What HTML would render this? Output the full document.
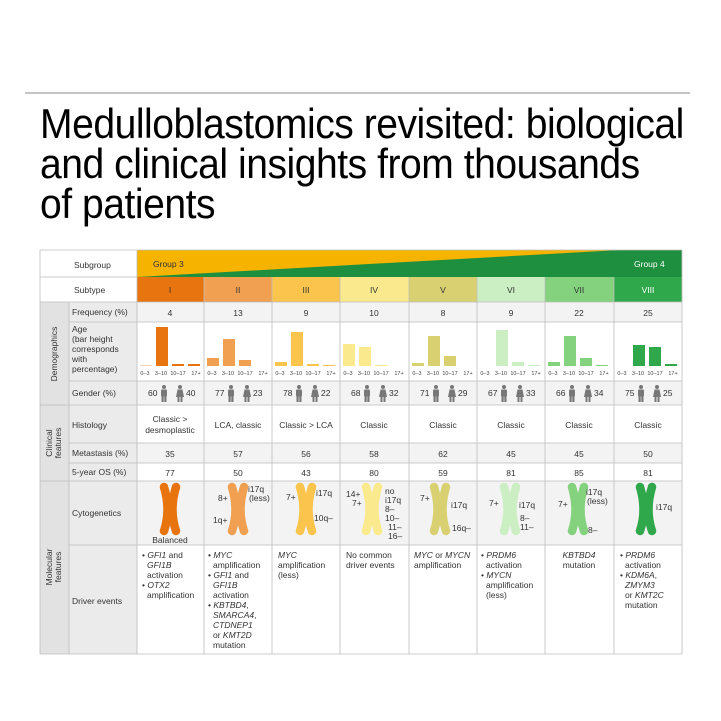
<!DOCTYPE html>
<html><head><meta charset="utf-8"><style>
html,body{margin:0;padding:0;background:#fff}
svg{display:block}
text{font-family:"Liberation Sans",sans-serif;fill:#333}
.t{font-size:8.5px}
.c{text-anchor:middle}
.a{font-size:5.5px;text-anchor:middle;fill:#444}
.i{font-style:italic}
.h{font-family:"Liberation Sans Narrow","Liberation Sans",sans-serif;font-size:42px;fill:#000;letter-spacing:-0.5px}
</style></head><body>
<svg width="721" height="721" viewBox="0 0 721 721" xmlns="http://www.w3.org/2000/svg">
<defs>
<g id="chr"><path d="M-6,-23 Q1,0 -6,21" fill="none" stroke-width="8.5" stroke-linecap="round"/><path d="M6,-23 Q-1,0 6,21" fill="none" stroke-width="8.5" stroke-linecap="round"/></g>
<g id="m" fill="#777"><circle cx="0" cy="-7" r="2"/><rect x="-3" y="-4.5" width="6" height="7" rx="1"/><rect x="-2.5" y="2" width="2.2" height="6"/><rect x="0.3" y="2" width="2.2" height="6"/></g>
<g id="f" fill="#777"><circle cx="0" cy="-7" r="2"/><path d="M-2.5,-4.5 H2.5 L4,3 H-4 Z"/><rect x="-2.5" y="3" width="2" height="5"/><rect x="0.5" y="3" width="2" height="5"/></g>
</defs>
<line x1="25" y1="93" x2="690" y2="93" stroke="#888" stroke-width="1"/>
<g transform="translate(40,0) scale(0.93,1)">
<text class="h" x="0" y="138">Medulloblastomics revisited: biological</text>
<text class="h" x="0" y="178">and clinical insights from thousands</text>
<text class="h" x="0" y="218">of patients</text>
</g>

<rect x="40" y="250" width="97" height="52" fill="#fff"/>
<rect x="40" y="302" width="29" height="352" fill="#e2e2e2"/>
<rect x="69" y="302" width="68" height="352" fill="#ebebeb"/>
<rect x="137" y="302" width="545" height="20" fill="#f3f3f3"/>
<rect x="137" y="381" width="545" height="24" fill="#f3f3f3"/>
<rect x="137" y="443" width="545" height="20" fill="#f3f3f3"/>
<rect x="137" y="481" width="545" height="64" fill="#f3f3f3"/>
<rect x="137" y="250" width="545" height="27" fill="#f6b300"/>
<polygon points="137,277 620,250 682,250 682,277" fill="#1e8f3e"/>
<text x="153" y="267" class="t" style="fill:#333">Group 3</text>
<text x="634" y="267" class="t" style="fill:#fff">Group 4</text>
<rect x="137" y="277" width="67" height="25" fill="#e8740f"/>
<rect x="204" y="277" width="68" height="25" fill="#f0a050"/>
<rect x="272" y="277" width="68" height="25" fill="#fbc54d"/>
<rect x="340" y="277" width="69" height="25" fill="#fbe98e"/>
<rect x="409" y="277" width="68" height="25" fill="#d9d171"/>
<rect x="477" y="277" width="68" height="25" fill="#cbefc2"/>
<rect x="545" y="277" width="69" height="25" fill="#84d27e"/>
<rect x="614" y="277" width="68" height="25" fill="#2fa84b"/>
<g>
<text x="170" y="293" class="c t">I</text><text x="238" y="293" class="c t">II</text><text x="306" y="293" class="c t">III</text><text x="374" y="293" class="c t">IV</text><text x="443" y="293" class="c t">V</text><text x="511" y="293" class="c t">VI</text><text x="579" y="293" class="c t">VII</text><text x="648" y="293" class="c t" style="fill:#fff">VIII</text>
</g>
<g stroke="#bdbdbd" stroke-width="0.8">
<line x1="40" y1="250" x2="682" y2="250"/><line x1="40" y1="277" x2="137" y2="277"/>
<line x1="40" y1="302" x2="682" y2="302"/><line x1="69" y1="322" x2="682" y2="322"/>
<line x1="69" y1="381" x2="682" y2="381"/><line x1="40" y1="405" x2="682" y2="405"/>
<line x1="69" y1="443" x2="682" y2="443"/><line x1="69" y1="463" x2="682" y2="463"/>
<line x1="40" y1="481" x2="682" y2="481"/><line x1="69" y1="545" x2="682" y2="545"/>
<line x1="40" y1="654" x2="682" y2="654"/>
<line x1="40" y1="250" x2="40" y2="654"/><line x1="69" y1="302" x2="69" y2="654"/>
<line x1="137" y1="250" x2="137" y2="654"/>
<line x1="204" y1="277" x2="204" y2="654"/><line x1="272" y1="277" x2="272" y2="654"/>
<line x1="340" y1="277" x2="340" y2="654"/><line x1="409" y1="277" x2="409" y2="654"/>
<line x1="477" y1="277" x2="477" y2="654"/><line x1="545" y1="277" x2="545" y2="654"/>
<line x1="614" y1="277" x2="614" y2="654"/><line x1="682" y1="250" x2="682" y2="654"/>
</g>
<g class="t">
<text x="74" y="268">Subgroup</text><text x="74" y="293">Subtype</text>
<text x="72" y="315">Frequency (%)</text>
<text x="72" y="332">Age</text><text x="72" y="342">(bar height</text><text x="72" y="352">corresponds</text><text x="72" y="362">with</text><text x="72" y="372">percentage)</text>
<text x="72" y="396">Gender (%)</text>
<text x="72" y="428">Histology</text>
<text x="72" y="456">Metastasis (%)</text>
<text x="72" y="475">5-year OS (%)</text>
<text x="72" y="516">Cytogenetics</text>
<text x="72" y="604">Driver events</text>
</g>
<g>
<text transform="translate(57,354) rotate(-90)" class="t c">Demographics</text>
<text transform="translate(52,443) rotate(-90)" class="t c">Clinical</text>
<text transform="translate(61,443) rotate(-90)" class="t c">features</text>
<text transform="translate(52,567) rotate(-90)" class="t c">Molecular</text>
<text transform="translate(61,567) rotate(-90)" class="t c">features</text>
</g>
<g>
<text class="t c" x="170" y="316">4</text><text class="t c" x="238" y="316">13</text><text class="t c" x="306" y="316">9</text><text class="t c" x="374" y="316">10</text><text class="t c" x="443" y="316">8</text><text class="t c" x="511" y="316">9</text><text class="t c" x="579" y="316">22</text><text class="t c" x="648" y="316">25</text>
<text class="t c" x="170" y="457">35</text><text class="t c" x="238" y="457">57</text><text class="t c" x="306" y="457">56</text><text class="t c" x="374" y="457">58</text><text class="t c" x="443" y="457">62</text><text class="t c" x="511" y="457">45</text><text class="t c" x="579" y="457">45</text><text class="t c" x="648" y="457">50</text>
<text class="t c" x="170" y="476">77</text><text class="t c" x="238" y="476">50</text><text class="t c" x="306" y="476">43</text><text class="t c" x="374" y="476">80</text><text class="t c" x="443" y="476">59</text><text class="t c" x="511" y="476">81</text><text class="t c" x="579" y="476">85</text><text class="t c" x="648" y="476">81</text>
<text class="t c" x="170" y="422">Classic &gt;</text><text class="t c" x="170" y="433">desmoplastic</text>
<text class="t c" x="238" y="428">LCA, classic</text><text class="t c" x="306" y="428">Classic &gt; LCA</text>
<text class="t c" x="374" y="428">Classic</text><text class="t c" x="443" y="428">Classic</text><text class="t c" x="511" y="428">Classic</text><text class="t c" x="579" y="428">Classic</text><text class="t c" x="648" y="428">Classic</text>
</g>
<g>
<g fill="#e8740f"><rect x="140" y="365" width="12" height="1" opacity=".3"/><rect x="156" y="327" width="12" height="39"/><rect x="172" y="364" width="12" height="2"/><rect x="188" y="364" width="12" height="2"/></g>
<g fill="#f0a050"><rect x="207" y="358" width="12" height="8"/><rect x="223" y="339" width="12" height="27"/><rect x="239" y="360" width="12" height="6"/></g>
<g fill="#fbc54d"><rect x="275" y="362" width="12" height="4"/><rect x="291" y="332" width="12" height="34"/><rect x="307" y="364" width="12" height="2"/><rect x="323" y="365" width="12" height="1"/></g>
<g fill="#fbe98e"><rect x="343" y="344" width="12" height="22"/><rect x="359" y="347" width="12" height="19"/><rect x="375" y="365" width="12" height="1"/></g>
<g fill="#d9d171"><rect x="412" y="363" width="12" height="3"/><rect x="428" y="336" width="12" height="30"/><rect x="444" y="356" width="12" height="10"/></g>
<g fill="#cbefc2"><rect x="496" y="330" width="12" height="36"/><rect x="512" y="362" width="12" height="4"/><rect x="528" y="365" width="12" height="1"/></g>
<g fill="#84d27e"><rect x="548" y="362" width="12" height="4"/><rect x="564" y="336" width="12" height="30"/><rect x="580" y="358" width="12" height="8"/><rect x="596" y="365" width="12" height="1"/></g>
<g fill="#2fa84b"><rect x="633" y="345" width="12" height="21"/><rect x="649" y="347" width="12" height="19"/><rect x="665" y="364" width="12" height="2"/></g>
</g>
<g>
<g transform="translate(137,0)"><text class="a" x="8" y="375">0–3</text><text class="a" x="24" y="375">3–10</text><text class="a" x="41" y="375">10–17</text><text class="a" x="59" y="375">17+</text></g>
<g transform="translate(204,0)"><text class="a" x="8" y="375">0–3</text><text class="a" x="24" y="375">3–10</text><text class="a" x="41" y="375">10–17</text><text class="a" x="59" y="375">17+</text></g>
<g transform="translate(272,0)"><text class="a" x="8" y="375">0–3</text><text class="a" x="24" y="375">3–10</text><text class="a" x="41" y="375">10–17</text><text class="a" x="59" y="375">17+</text></g>
<g transform="translate(340,0)"><text class="a" x="8" y="375">0–3</text><text class="a" x="24" y="375">3–10</text><text class="a" x="41" y="375">10–17</text><text class="a" x="59" y="375">17+</text></g>
<g transform="translate(409,0)"><text class="a" x="8" y="375">0–3</text><text class="a" x="24" y="375">3–10</text><text class="a" x="41" y="375">10–17</text><text class="a" x="59" y="375">17+</text></g>
<g transform="translate(477,0)"><text class="a" x="8" y="375">0–3</text><text class="a" x="24" y="375">3–10</text><text class="a" x="41" y="375">10–17</text><text class="a" x="59" y="375">17+</text></g>
<g transform="translate(545,0)"><text class="a" x="8" y="375">0–3</text><text class="a" x="24" y="375">3–10</text><text class="a" x="41" y="375">10–17</text><text class="a" x="59" y="375">17+</text></g>
<g transform="translate(614,0)"><text class="a" x="8" y="375">0–3</text><text class="a" x="24" y="375">3–10</text><text class="a" x="41" y="375">10–17</text><text class="a" x="59" y="375">17+</text></g>
</g>
<g>
<g transform="translate(137,0)"><text class="t" x="11" y="396">60</text><use href="#m" x="27" y="394"/><use href="#f" x="43" y="394"/><text class="t" x="49" y="396">40</text></g>
<g transform="translate(204,0)"><text class="t" x="11" y="396">77</text><use href="#m" x="27" y="394"/><use href="#f" x="43" y="394"/><text class="t" x="49" y="396">23</text></g>
<g transform="translate(272,0)"><text class="t" x="11" y="396">78</text><use href="#m" x="27" y="394"/><use href="#f" x="43" y="394"/><text class="t" x="49" y="396">22</text></g>
<g transform="translate(340,0)"><text class="t" x="11" y="396">68</text><use href="#m" x="27" y="394"/><use href="#f" x="43" y="394"/><text class="t" x="49" y="396">32</text></g>
<g transform="translate(409,0)"><text class="t" x="11" y="396">71</text><use href="#m" x="27" y="394"/><use href="#f" x="43" y="394"/><text class="t" x="49" y="396">29</text></g>
<g transform="translate(477,0)"><text class="t" x="11" y="396">67</text><use href="#m" x="27" y="394"/><use href="#f" x="43" y="394"/><text class="t" x="49" y="396">33</text></g>
<g transform="translate(545,0)"><text class="t" x="11" y="396">66</text><use href="#m" x="27" y="394"/><use href="#f" x="43" y="394"/><text class="t" x="49" y="396">34</text></g>
<g transform="translate(614,0)"><text class="t" x="11" y="396">75</text><use href="#m" x="27" y="394"/><use href="#f" x="43" y="394"/><text class="t" x="49" y="396">25</text></g>
</g>
<use href="#chr" x="170" y="510" stroke="#e8740f"/>
<use href="#chr" x="238" y="510" stroke="#f0a050"/>
<use href="#chr" x="306" y="510" stroke="#fbc54d"/>
<use href="#chr" x="372" y="510" stroke="#fbe98e"/>
<use href="#chr" x="440" y="510" stroke="#d9d171"/>
<use href="#chr" x="510" y="510" stroke="#cbefc2"/>
<use href="#chr" x="578" y="510" stroke="#84d27e"/>
<use href="#chr" x="646" y="510" stroke="#2fa84b"/>
<g class="t">
<text class="t c" x="170" y="543">Balanced</text>
<text x="218" y="501">8+</text><text x="248" y="492">i17q</text><text x="249" y="501">(less)</text><text x="213" y="523">1q+</text>
<text x="286" y="500">7+</text><text x="316" y="496">i17q</text><text x="314" y="521">10q–</text>
<text x="346" y="497">14+</text><text x="352" y="506">7+</text><text x="385" y="494">no</text><text x="385" y="503">i17q</text><text x="385" y="512">8–</text><text x="385" y="521">10–</text><text x="388" y="530">11–</text><text x="388" y="539">16–</text>
<text x="420" y="501">7+</text><text x="451" y="508">i17q</text><text x="452" y="531">16q–</text>
<text x="489" y="506">7+</text><text x="519" y="508">i17q</text><text x="520" y="521">8–</text><text x="520" y="530">11–</text>
<text x="558" y="507">7+</text><text x="586" y="495">i17q</text><text x="587" y="504">(less)</text><text x="588" y="533">8–</text>
<text x="656" y="510">i17q</text>
</g>
<g class="t">
<text x="142" y="558">• <tspan class="i">GFI1</tspan> and</text><text x="147" y="568" class="t i">GFI1B</text><text x="147" y="578">activation</text><text x="142" y="588">• <tspan class="i">OTX2</tspan></text><text x="147" y="598">amplification</text>
<text x="208" y="558">• <tspan class="i">MYC</tspan></text><text x="213" y="568">amplification</text><text x="208" y="578">• <tspan class="i">GFI1</tspan> and</text><text x="213" y="588" class="t i">GFI1B</text><text x="213" y="598">activation</text><text x="208" y="608">• <tspan class="i">KBTBD4</tspan>,</text><text x="213" y="618"><tspan class="i">SMARCA4</tspan>,</text><text x="213" y="628" class="t i">CTDNEP1</text><text x="213" y="638">or <tspan class="i">KMT2D</tspan></text><text x="213" y="648">mutation</text>
<text x="278" y="558" class="t i">MYC</text><text x="278" y="568">amplification</text><text x="278" y="578">(less)</text>
<text x="346" y="558">No common</text><text x="346" y="568">driver events</text>
<text x="414" y="558"><tspan class="i">MYC</tspan> or <tspan class="i">MYCN</tspan></text><text x="414" y="568">amplification</text>
<text x="481" y="558">• <tspan class="i">PRDM6</tspan></text><text x="486" y="568">activation</text><text x="481" y="578">• <tspan class="i">MYCN</tspan></text><text x="486" y="588">amplification</text><text x="486" y="598">(less)</text>
<text class="t c" x="579" y="558"><tspan class="i">KBTBD4</tspan></text><text class="t c" x="579" y="568">mutation</text>
<text x="620" y="558">• <tspan class="i">PRDM6</tspan></text><text x="625" y="568">activation</text><text x="620" y="578">• <tspan class="i">KDM6A</tspan>,</text><text x="625" y="588" class="t i">ZMYM3</text><text x="625" y="598">or <tspan class="i">KMT2C</tspan></text><text x="625" y="608">mutation</text>
</g>
</svg>
</body></html>
